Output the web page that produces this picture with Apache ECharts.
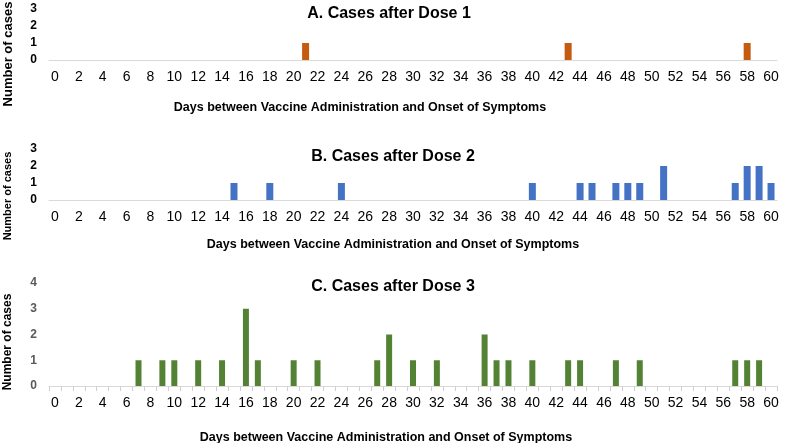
<!DOCTYPE html>
<html>
<head>
<meta charset="utf-8">
<script src="https://cdn.jsdelivr.net/npm/echarts@6/dist/echarts.min.js"></script>
<style>
html, body { margin: 0; padding: 0; background: #fff; }
#main { width: 787px; height: 443px; }
</style>
</head>
<body>
<div id="main"></div>
<script>
var days = [];
for (var d = 0; d <= 60; d++) days.push(String(d));

// cases per day
var dose1Days = [21, 43, 58];
var dose1Cases = [1, 1, 1];
var dose2Days = [15, 18, 24, 40, 44, 45, 47, 48, 49, 51, 57, 58, 59, 60];
var dose2Cases = [1, 1, 1, 1, 1, 1, 1, 1, 1, 2, 1, 2, 2, 1];
var dose3Days = [7, 9, 10, 12, 14, 16, 17, 20, 22, 27, 28, 30, 32, 36, 37, 38, 40, 43, 44, 47, 49, 57, 58, 59];
var dose3Cases = [1, 1, 1, 1, 1, 3, 1, 1, 1, 1, 2, 1, 1, 2, 1, 1, 1, 1, 1, 1, 1, 1, 1, 1];

var titles = ['A. Cases after Dose 1', 'B. Cases after Dose 2', 'C. Cases after Dose 3'];
var xName = 'Days between Vaccine Administration and Onset of Symptoms';
var yName = 'Number of cases';

function toPairs(ds, cs) {
	var out = [];
	for (var i = 0; i < ds.length; i++) out.push([String(ds[i]), cs[i]]);
	return out;
}

var font = 'Liberation Sans, Arial, sans-serif';

function xAxisOf(idx, ticks) {
	return {
		type: 'category',
		gridIndex: idx,
		data: days,
		axisLine: {lineStyle: {color: '#d9d9d9', width: 1}},
		axisTick: {show: ticks, interval: 0, length: 5, lineStyle: {color: '#cfcfcf'}},
		axisLabel: {interval: 1, color: '#000', fontSize: 14, fontFamily: font, margin: 10}
	};
}

function yAxisOf(idx, max, labelStyle) {
	return {
		type: 'value',
		gridIndex: idx,
		min: 0,
		max: max,
		interval: 1,
		splitLine: {show: false},
		axisLine: {show: false},
		axisTick: {show: false},
		axisLabel: labelStyle
	};
}

var chartDom = document.getElementById('main');
var myChart = echarts.init(chartDom);
var option = {
	animation: false,
	textStyle: {fontFamily: font},
	title: [
		{text: titles[0], left: 384, top: 1, textAlign: 'center', textStyle: {fontSize: 16, fontWeight: 'bold', color: '#000'}},
		{text: titles[1], left: 388, top: 144, textAlign: 'center', textStyle: {fontSize: 16, fontWeight: 'bold', color: '#000'}},
		{text: titles[2], left: 388, top: 274, textAlign: 'center', textStyle: {fontSize: 16, fontWeight: 'bold', color: '#000'}},
		{text: xName, left: 355, top: 96, textAlign: 'center', textStyle: {fontSize: 12.5, fontWeight: 'bold', color: '#000'}},
		{text: xName, left: 388, top: 233, textAlign: 'center', textStyle: {fontSize: 12.5, fontWeight: 'bold', color: '#000'}},
		{text: xName, left: 381, top: 426, textAlign: 'center', textStyle: {fontSize: 12.5, fontWeight: 'bold', color: '#000'}}
	],
	graphic: [
		{type: 'text', x: 8, y: 54, rotation: Math.PI / 2, style: {text: yName, font: 'bold 13px ' + font, fill: '#000', textAlign: 'center', textVerticalAlign: 'middle'}},
		{type: 'text', x: 8, y: 196, rotation: Math.PI / 2, style: {text: yName, font: 'bold 11px ' + font, fill: '#000', textAlign: 'center', textVerticalAlign: 'middle'}},
		{type: 'text', x: 8, y: 342, rotation: Math.PI / 2, style: {text: yName, font: 'bold 12px ' + font, fill: '#000', textAlign: 'center', textVerticalAlign: 'middle'}}
	],
	grid: [
		{left: 49, right: 10, top: 9, height: 51},
		{left: 49, right: 10, top: 149, height: 51},
		{left: 49, right: 10, top: 283, height: 103}
	],
	xAxis: [xAxisOf(0, false), xAxisOf(1, false), xAxisOf(2, true)],
	yAxis: [
		yAxisOf(0, 3, {color: '#000', fontSize: 12, fontWeight: 'bold', margin: 12}),
		yAxisOf(1, 3, {color: '#000', fontSize: 12, fontWeight: 'bold', margin: 12}),
		yAxisOf(2, 4, {color: '#595959', fontSize: 12, fontWeight: 'bold', margin: 12})
	],
	series: [
		{name: 'Dose 1', type: 'bar', xAxisIndex: 0, yAxisIndex: 0, barWidth: 7, itemStyle: {color: '#c55a11'}, data: toPairs(dose1Days, dose1Cases)},
		{name: 'Dose 2', type: 'bar', xAxisIndex: 1, yAxisIndex: 1, barWidth: 7, itemStyle: {color: '#4472c4'}, data: toPairs(dose2Days, dose2Cases)},
		{name: 'Dose 3', type: 'bar', xAxisIndex: 2, yAxisIndex: 2, barWidth: 6, itemStyle: {color: '#548235'}, data: toPairs(dose3Days, dose3Cases)}
	]
};

option && myChart.setOption(option);
</script>
</body>
</html>
